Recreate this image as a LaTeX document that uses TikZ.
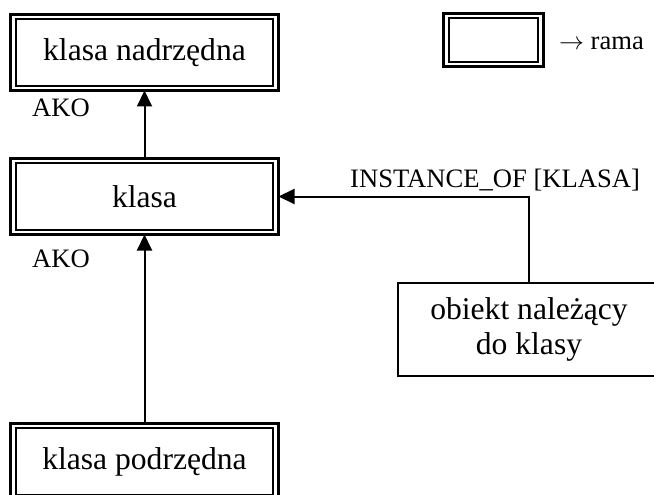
\documentclass[tikz,border=0pt]{standalone}
\usepackage{fontspec}
\setmainfont{Liberation Serif}
\usetikzlibrary{arrows.meta}
\tikzset{
  frame/.style={draw, line width=3pt, inner sep=0pt, outer sep=0pt,
    minimum width=268pt, minimum height=76pt, align=center,
    font=\fontsize{31.6}{35}\selectfont,
    path picture={\draw[line width=2.2pt]
      ([shift={(5.5pt,-4.8pt)}]path picture bounding box.north west) rectangle
      ([shift={(-5.5pt,4.8pt)}]path picture bounding box.south east);}},
  plainbox/.style={draw, line width=2.2pt, inner sep=0pt, outer sep=0pt,
    minimum width=262pt, minimum height=93pt, align=center,
    font=\fontsize{31.6}{35}\selectfont},
  lbl/.style={inner sep=0pt, font=\fontsize{26.6}{30}\selectfont},
  arr/.style={line width=2pt, -{Triangle[width=15pt,length=16pt]}}
}
\begin{document}
\begin{tikzpicture}[x=1pt,y=-1pt]
\useasboundingbox (0,0) rectangle (654,495);
\clip (0,0) rectangle (654,495);
\node[frame] (nad) at (144.5,52.5) {klasa nadrzędna};
\node[frame] (kl) at (144.5,196.5) {klasa};
\node[frame] (pod) at (144.5,461.5) {klasa podrzędna};
\node[frame, minimum width=100pt, minimum height=53pt] (leg) at (493.5,40) {};
\node[lbl, anchor=base west] (rama) at (559,50) {$\rightarrow$ rama};
\node[plainbox] (obj) at (529,329.5) {obiekt należący\\do klasy};
\node[lbl, anchor=base west] (ako1) at (32,117) {AKO};
\node[lbl, anchor=base west] (ako2) at (32,267) {AKO};
\node[lbl, anchor=base west] (inst) at (350,187) {INSTANCE\_OF [KLASA]};
\draw[arr] (kl.north) -- (nad.south);
\draw[arr] (pod.north) -- (kl.south);
\draw[arr] (obj.north) |- (kl.east);
\end{tikzpicture}
\end{document}
